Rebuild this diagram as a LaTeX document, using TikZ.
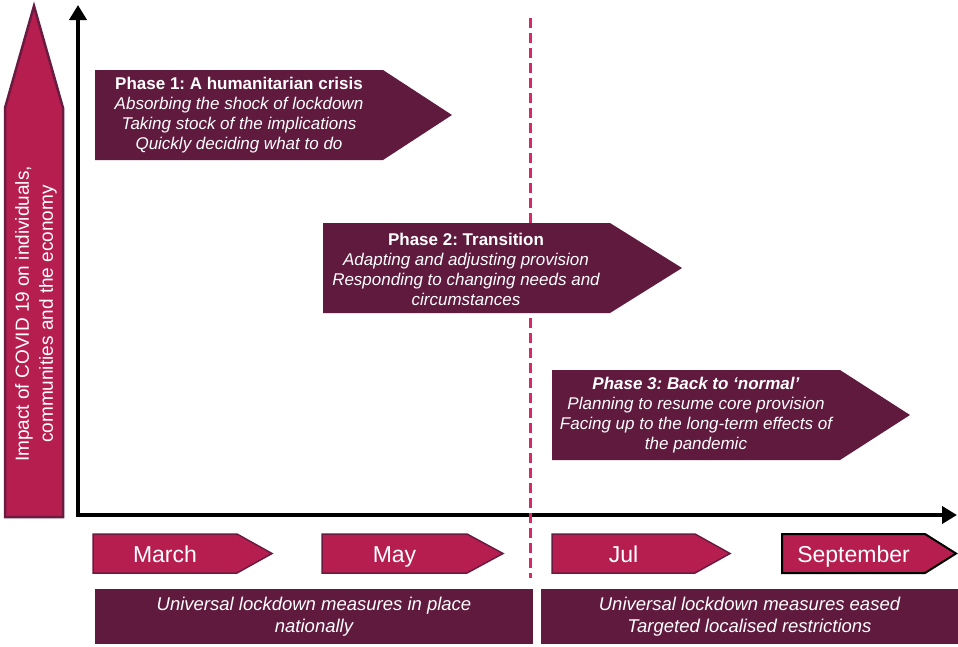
\documentclass[tikz,border=0pt]{standalone}
\usepackage{fontspec}
\setmainfont{Liberation Sans}
\usepackage{xcolor}
\usetikzlibrary{arrows.meta}
\definecolor{PhMaroon}{HTML}{5F1A3E}
\definecolor{PhCrimson}{HTML}{B71E50}
\definecolor{PhEdge}{HTML}{6A1B3F}
\definecolor{PhDash}{HTML}{D62A68}
\frenchspacing

\begin{document}
\begin{tikzpicture}[x=1pt,y=-1pt,
  phasetext/.style={text=white,align=center,font=\fontsize{17}{20}\selectfont},
  monthbox/.style={fill=PhCrimson,draw=PhEdge,line width=1.5pt,line join=miter},
  monthtext/.style={text=white,text height=16pt,text depth=5pt,font=\fontsize{23}{26}\selectfont},
  bartext/.style={text=white,align=center,font=\fontsize{18.5}{22}\selectfont\itshape}]
\path[use as bounding box] (0,0) rectangle (958,646);
\fill[white] (0,0) rectangle (958,646);
% impact arrow on the left
\filldraw[fill=PhCrimson,draw=PhEdge,line width=2.5pt,line join=miter] (5,517) -- (5,108) -- (34,6) -- (63,108) -- (63,517) -- cycle;
\node[rotate=90,text=white,align=center,font=\fontsize{19}{24}\selectfont] (impact) at (36,314) {Impact of COVID 19 on individuals,\\communities and the economy};
% axes
\coordinate (origin) at (78,515);
\coordinate (ytop) at (78,5);
\coordinate (xend) at (957,515);
\draw[line width=4.5pt,line join=miter,{Triangle[length=15pt,width=17pt]}-{Triangle[length=15pt,width=17pt]}] (ytop) -- (origin) -- (xend);
% dashed divider
\coordinate (divtop) at (530,18);
\coordinate (divbot) at (530,578);
\draw[PhDash,line width=3pt,dash pattern=on 10pt off 5pt] (divtop) -- (divbot);
% phase 1
\fill[PhMaroon] (95,70) -- (383,70) -- (452,115) -- (383,160) -- (95,160) -- cycle;
\node[phasetext] (phaseone) at (239,115) {\textbf{Phase 1: A humanitarian crisis}\\\itshape Absorbing the shock of lockdown\\\itshape Taking stock of the implications\\\itshape Quickly deciding what to do};
% phase 2
\fill[PhMaroon] (323,223) -- (610,223) -- (682,268) -- (610,313) -- (323,313) -- cycle;
\node[phasetext] (phasetwo) at (466,269) {\textbf{Phase 2: Transition}\\\itshape Adapting and adjusting provision\\\itshape Responding to changing needs and\\\itshape circumstances};
% phase 3
\fill[PhMaroon] (552,370) -- (840,370) -- (910,415) -- (840,460) -- (552,460) -- cycle;
\node[phasetext] (phasethree) at (696,415) {\textbf{\itshape Phase 3: Back to `normal'}\\\itshape Planning to resume core provision\\\itshape Facing up to the long-term effects of\\\itshape the pandemic};
% months
\filldraw[monthbox] (93,534) -- (237,534) -- (272,553.5) -- (237,573) -- (93,573) -- cycle;
\node[monthtext] (march) at (165,557) {March};
\filldraw[monthbox] (322,534) -- (467,534) -- (503,553.5) -- (467,573) -- (322,573) -- cycle;
\node[monthtext] (may) at (394.5,557) {May};
\filldraw[monthbox] (552,534) -- (695,534) -- (730,553.5) -- (695,573) -- (552,573) -- cycle;
\node[monthtext] (jul) at (623.5,557) {Jul};
\filldraw[monthbox,draw=black,line width=2pt] (782,534) -- (925,534) -- (956,553.5) -- (925,573) -- (782,573) -- cycle;
\node[monthtext] (september) at (853.5,557) {September};
% lockdown bars
\fill[PhMaroon] (95,589) rectangle (533,644);
\node[bartext] (lockin) at (314,616.5) {Universal lockdown measures in place\\nationally};
\fill[PhMaroon] (541,589) rectangle (958,644);
\node[bartext] (lockeased) at (749.5,616.5) {Universal lockdown measures eased\\Targeted localised restrictions};
\end{tikzpicture}
\end{document}
